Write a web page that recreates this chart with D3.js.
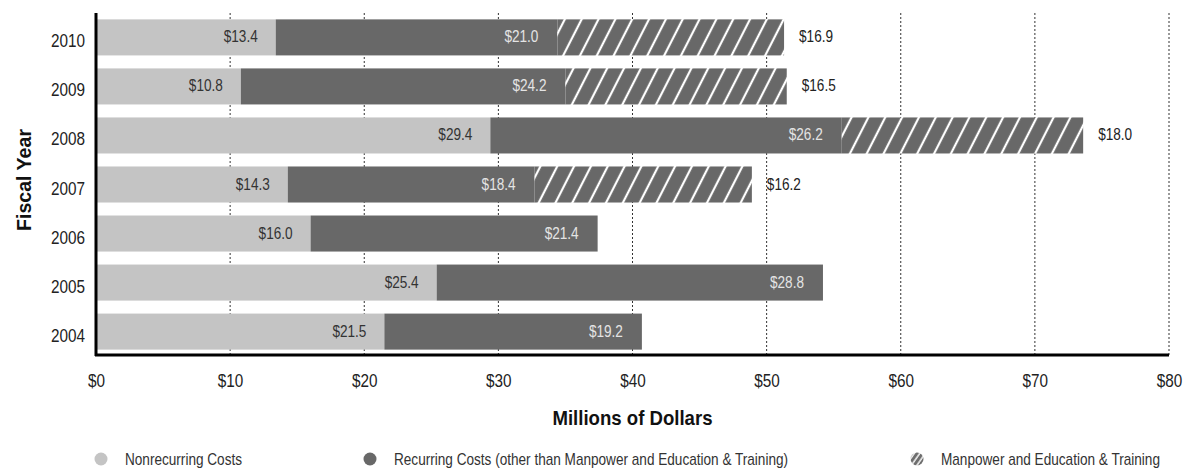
<!DOCTYPE html>
<html><head><meta charset="utf-8">
<script src="https://cdn.jsdelivr.net/npm/d3@7/dist/d3.min.js"></script>
<style>
body{margin:0;background:#fff;}
svg text{font-family:"Liberation Sans","Arial",sans-serif;}
</style></head>
<body>
<svg id="c" width="1183" height="469"></svg>
<script>
const years = ["2010","2009","2008","2007","2006","2005","2004"];
const nonrecurring = [13.4,10.8,29.4,14.3,16.0,25.4,21.5];
const recurring = [21.0,24.2,26.2,18.4,21.4,28.8,19.2];
const manpower = [16.9,16.5,18.0,16.2,null,null,null];
const xTicks = [0,10,20,30,40,50,60,70,80];
const legendLabels = ["Nonrecurring Costs","Recurring Costs (other than Manpower and Education & Training)","Manpower and Education & Training"];

const SX = 0.85; // horizontal condensing to imitate a condensed face
const svg = d3.select("#c");
const x = d3.scaleLinear().domain([0,80]).range([96,1169]);
const y = d3.scaleBand().domain(years).range([13,356]).paddingInner(0.265).paddingOuter(0.13);

function ctext(parent, px, py, str, opts={}){
  const t = parent.append("text")
    .attr("transform",`translate(${px},${py}) scale(${opts.sx||SX},1)`)
    .attr("text-anchor",opts.anchor||"start")
    .attr("font-size",opts.size||16)
    .attr("fill",opts.fill||"#222")
    .text(str);
  if(opts.bold) t.attr("font-weight","bold");
  return t;
}

const defs = svg.append("defs");
const pat = defs.append("pattern").attr("id","hatch").attr("patternUnits","userSpaceOnUse")
  .attr("width",15).attr("height",15).attr("patternTransform","rotate(27)");
pat.append("rect").attr("width",15).attr("height",15).attr("fill","#686868");
pat.append("line").attr("x1",2).attr("x2",2).attr("y1",0).attr("y2",15).attr("stroke","#fff").attr("stroke-width",2.2);
const pat2 = defs.append("pattern").attr("id","hatchS").attr("patternUnits","userSpaceOnUse")
  .attr("width",4.5).attr("height",4.5).attr("patternTransform","rotate(35)");
pat2.append("rect").attr("width",4.5).attr("height",4.5).attr("fill","#6e6e6e");
pat2.append("line").attr("x1",1).attr("x2",1).attr("y1",0).attr("y2",4.5).attr("stroke","#fff").attr("stroke-width",1.4);

// gridlines
svg.append("g").selectAll("line").data(xTicks.slice(1)).join("line")
  .attr("x1",d=>x(d)).attr("x2",d=>x(d)).attr("y1",13).attr("y2",356)
  .attr("stroke","#333").attr("stroke-width",1).attr("stroke-dasharray","2,2");

const rows = years.map((yr,i)=>({yr,n:nonrecurring[i],r:recurring[i],m:manpower[i]}));
const g = svg.append("g");
rows.forEach(d=>{
  const y0 = y(d.yr), h = y.bandwidth();
  g.append("rect").attr("x",x(0)).attr("y",y0).attr("width",x(d.n)-x(0)).attr("height",h).attr("fill","#c4c4c4");
  g.append("rect").attr("x",x(d.n)).attr("y",y0).attr("width",x(d.n+d.r)-x(d.n)).attr("height",h).attr("fill","#686868");
  if(d.m!=null){
    g.append("rect").attr("x",x(d.n+d.r)).attr("y",y0).attr("width",x(d.n+d.r+d.m)-x(d.n+d.r)).attr("height",h).attr("fill","url(#hatch)");
  }
  const base = y0+h/2+5;
  ctext(g, x(d.n)-18, base, "$"+d.n.toFixed(1), {anchor:"end", fill:"#333", size:16});
  ctext(g, x(d.n+d.r)-19, base, "$"+d.r.toFixed(1), {anchor:"end", fill:"#e4e4e4", size:16});
  if(d.m!=null){
    ctext(g, x(d.n+d.r+d.m)+15, base, "$"+d.m.toFixed(1), {anchor:"start", fill:"#222", size:16});
  }
});

// axes
const yAxis = d3.axisLeft(y).tickSize(0).tickPadding(0);
const ya = svg.append("g").attr("transform","translate(96,0)").call(yAxis);
ya.select(".domain").remove();
ya.selectAll(".tick text").attr("x",0).attr("dy",0)
  .attr("transform",`translate(-11,10) scale(${SX},1)`)
  .attr("font-size",18).attr("fill","#222").style("font-family",'"Liberation Sans",Arial,sans-serif');
const xAxis = d3.axisBottom(x).tickValues(xTicks).tickSize(0).tickPadding(0).tickFormat(d=>"$"+d);
const xa = svg.append("g").attr("transform","translate(0,355)").call(xAxis);
xa.select(".domain").remove();
xa.selectAll(".tick text").attr("y",0).attr("dy",0)
  .attr("transform",`translate(0,32) scale(${SX},1)`)
  .attr("font-size",18).attr("fill","#222").style("font-family",'"Liberation Sans",Arial,sans-serif');

svg.append("line").attr("x1",96).attr("x2",96).attr("y1",13).attr("y2",356).attr("stroke","#000").attr("stroke-width",3);
svg.append("line").attr("x1",95).attr("x2",1169).attr("y1",355).attr("y2",355).attr("stroke","#000").attr("stroke-width",3);

ctext(svg, x(40), 425, "Millions of Dollars", {anchor:"middle", size:20, bold:true, fill:"#111", sx:0.93});
svg.append("text").attr("transform","translate(31,180) rotate(-90) scale(0.98,1)").attr("text-anchor","middle")
  .attr("font-size",20).attr("font-weight","bold").attr("fill","#111").text("Fiscal Year");

// legend
const legX = [101,370,917];
const legFill = ["#c4c4c4","#686868","url(#hatchS)"];
const lg = svg.append("g");
legendLabels.forEach((t,i)=>{
  lg.append("circle").attr("cx",legX[i]).attr("cy",459).attr("r",6.5).attr("fill",legFill[i]);
  ctext(lg, legX[i]+24, 465, t, {size:16, fill:"#333"});
});
</script>
</body></html>
